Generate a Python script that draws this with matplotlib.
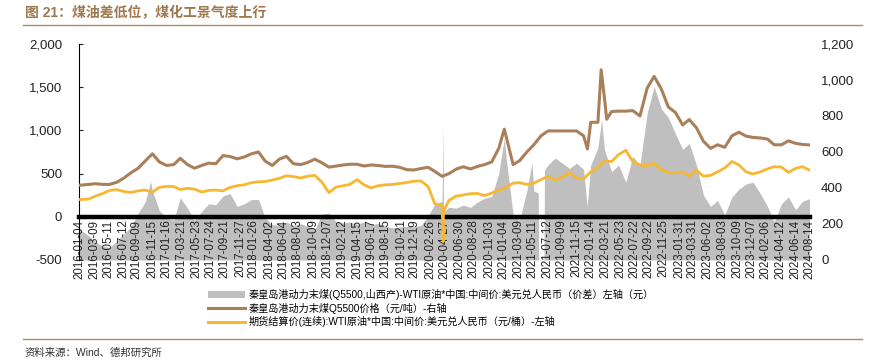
import numpy as np
import pandas as pd
import matplotlib
matplotlib.use("Agg")
import matplotlib.pyplot as plt
from matplotlib.ticker import FuncFormatter, FixedLocator, FixedFormatter
from matplotlib.patches import Patch
from matplotlib.lines import Line2D
import matplotlib.dates as mdates

plt.rcParams['font.family'] = ['Liberation Sans', 'Noto Sans CJK SC', 'DejaVu Sans']

# monthly samples (mid-month), first/last are the series ends
month_dates = list(pd.date_range("2016-01-01", "2024-07-01", freq="MS") + pd.Timedelta(days=14))
month_dates[0] = pd.Timestamp("2016-01-04")
month_dates.append(pd.Timestamp("2024-08-14"))

# 秦皇岛港动力末煤Q5500价格 (right axis)
coal = [415, 420, 424, 420, 420, 432, 455, 485, 510, 550, 590, 545,
        525, 530, 565, 530, 510, 525, 538, 535, 580, 575, 562, 572,
        590, 600, 550, 525, 560, 576, 535, 530, 542, 560, 540, 516,
        522, 528, 532, 532, 522, 528, 525, 520, 521, 515, 502, 500,
        508, 515, 492, 465, 480, 505, 518, 506, 520, 530, 545, 620,
        690, 530, 552, 600, 640, 690, 717, 717, 717, 717, 717, 690,
        765, 765, 900, 825, 827, 827, 830, 800, 955, 1020, 950, 850,
        819, 750, 780, 735, 660, 620, 640, 626, 690, 710, 688, 681,
        678, 672, 640, 640, 662, 648, 642, 639]
coal_extra_dates = ["2021-01-08", "2022-01-01", "2022-03-01", "2022-03-25"]
coal_extra = [727, 617, 1057, 782]

# WTI原油*美元兑人民币 (left axis)
wti = [200, 205, 240, 270, 305, 315, 293, 282, 300, 310, 285, 340,
       352, 350, 315, 330, 320, 287, 305, 310, 300, 340, 360, 370,
       395, 405, 408, 425, 445, 475, 465, 450, 470, 480, 400, 280,
       345, 360, 375, 430, 370, 335, 360, 370, 375, 385, 397, 412,
       415, 350, 150, 130, 190, 240, 252, 268, 270, 245, 275, 310,
       340, 390, 395, 375, 390, 430, 470, 420, 460, 512, 450, 440,
       520, 570, 650, 640, 720, 770, 640, 600, 590, 620, 545, 510,
       510, 520, 470, 540, 470, 480, 520, 565, 640, 600, 520, 495,
       520, 555, 580, 575, 515, 560, 580, 540]
wti_extra_dates = ["2020-04-20", "2020-04-21"]
wti_extra = [-285, 60]

# 价差 (left axis)
spread = [-140, -220, -290, -340, -355, -280, -195, -120, 45, 170, 300, 70,
          -10, -40, 220, 100, -40, 60, 150, 140, 240, 270, 120, 150,
          200, 200, -10, -90, -100, -60, -100, -80, -110, -150, 30, 43,
          -60, -70, -60, -85, -60, -92, -75, -110, -128, -115, -110, -115,
          -100, 10, 150, 180, 110, 100, 135, 110, 170, 215, 235, 500,
          700, 20, -35, 300, 300, -500, 600, 680, 620, 560, 620, 550,
          600, 800, 780, 520, 600, 400, 700, 600, 1200, 1506, 1250, 1150,
          960, 780, 850, 600, 250, 120, 190, 20, 230, 320, 380, 400,
          270, 120, -60, 150, 230, 80, 180, 210]
spread_extra_dates = ["2016-11-07", "2020-04-20", "2020-04-21", "2021-01-08",
                      "2021-05-07", "2021-06-03", "2021-06-05", "2021-06-28",
                      "2021-06-30", "2021-12-31", "2022-03-03"]
spread_extra = [408, 1044, 60, 910, 620, 274, -500, -500, 543, 120, 1121]

tick_labels = ["2016-01-04", "2016-03-09", "2016-05-11", "2016-07-12", "2016-09-09",
               "2016-11-15", "2017-01-16", "2017-03-21", "2017-05-23", "2017-07-24",
               "2017-09-21", "2017-11-27", "2018-01-26", "2018-04-02", "2018-06-04",
               "2018-08-03", "2018-10-09", "2018-12-07", "2019-02-12", "2019-04-15",
               "2019-06-17", "2019-08-15", "2019-10-21", "2019-12-19", "2020-02-26",
               "2020-04-27", "2020-06-30", "2020-08-28", "2020-11-03", "2021-01-04",
               "2021-03-09", "2021-05-11", "2021-07-12", "2021-09-09", "2021-11-15",
               "2022-01-14", "2022-03-21", "2022-05-23", "2022-07-22", "2022-09-22",
               "2022-11-25", "2023-01-31", "2023-03-31", "2023-06-02", "2023-08-03",
               "2023-10-09", "2023-12-07", "2024-02-06", "2024-04-12", "2024-06-14",
               "2024-08-14"]

labels = ["秦皇岛港动力末煤(Q5500,山西产)-WTI原油*中国:中间价:美元兑人民币（价差）左轴（元）",
          "秦皇岛港动力末煤Q5500价格（元/吨）-右轴",
          "期货结算价(连续):WTI原油*中国:中间价:美元兑人民币（元/桶）-左轴"]


def build(vals, extra_dates, extra_vals):
    s = pd.Series(vals, index=pd.DatetimeIndex(month_dates))
    e = pd.Series(extra_vals, index=pd.to_datetime(extra_dates))
    return pd.concat([s, e]).sort_index()


s_coal = build(coal, coal_extra_dates, coal_extra)
s_wti = build(wti, wti_extra_dates, wti_extra)
s_spread = build(spread, spread_extra_dates, spread_extra)

GRAY = "#bfbfbf"
BROWN = "#a9805a"
YELLOW = "#f7b733"
TITLE_C = "#a0784e"
BASE = -500

W, H = 885, 362
fig = plt.figure(figsize=(W / 100, H / 100), dpi=100)
ax = fig.add_axes([79 / W, 1 - 260 / H, (810 - 79) / W, (260 - 44) / H])
ax2 = ax.twinx()
ax2.patch.set_visible(False)

# area is filled up from the bottom of the left axis
ax.fill_between(s_spread.index, s_spread.values, BASE, color=GRAY, lw=0, zorder=1)
ax.plot(s_wti.index, s_wti.values, color=YELLOW, lw=2.0, zorder=3)
ax2.plot(s_coal.index, s_coal.values, color=BROWN, lw=2.2)

ax.set_xlim(pd.Timestamp("2016-01-04"), pd.Timestamp("2024-08-16"))
ax.set_ylim(BASE, 2000)
ax2.set_ylim(0, 1200)
ax.set_yticks(np.arange(-500, 2001, 500))
ax2.set_yticks(np.arange(0, 1201, 200))
fmt = FuncFormatter(lambda v, _: f"{v:,.0f}")
ax.yaxis.set_major_formatter(fmt)
ax2.yaxis.set_major_formatter(fmt)

tick_pos = mdates.date2num(pd.to_datetime(tick_labels).to_pydatetime())
ax.xaxis.set_major_locator(FixedLocator(tick_pos))
ax.xaxis.set_major_formatter(FixedFormatter(tick_labels))
ax.tick_params(axis="x", length=0, pad=2, labelrotation=90, labelsize=8.3,
               labelcolor="#222222")
ax.tick_params(axis="y", direction="in", length=3, pad=12, labelsize=9.5, colors="#222222")
ax2.tick_params(axis="y", length=0, pad=8, labelsize=9.5, colors="#222222")

for sp in ["top", "right"]:
    ax.spines[sp].set_visible(False)
for sp in ["top", "right", "left", "bottom"]:
    ax2.spines[sp].set_visible(False)
ax.spines["bottom"].set_position(("data", 0))
ax.spines["bottom"].set_linewidth(3.2)
ax.spines["bottom"].set_color("black")
ax.spines["bottom"].set_zorder(2)
ax.spines["left"].set_linewidth(0.8)
ax.patch.set_visible(False)

handles = [Patch(facecolor=GRAY, edgecolor="none"),
           Line2D([], [], color=BROWN, lw=2.2),
           Line2D([], [], color=YELLOW, lw=2.2)]
fig.legend(handles, labels, loc="upper left", bbox_to_anchor=(208 / W, 1 - 289 / H),
           frameon=False, fontsize=7.3, handlelength=3.6, handleheight=0.6,
           handletextpad=0.4, labelspacing=0.25, borderpad=0, borderaxespad=0)

fig.text(25 / W, 1 - 13 / H, "图 21：煤油差低位，煤化工景气度上行", fontsize=10,
         fontweight="bold", color=TITLE_C, va="center", ha="left")
fig.add_artist(Line2D([23 / W, 862 / W], [1 - 25 / H, 1 - 25 / H], color="#b08a64", lw=1.0))
fig.add_artist(Line2D([23 / W, 862 / W], [1 - 339 / H, 1 - 339 / H], color="#b08a64", lw=1.0))
fig.text(25 / W, 1 - 353 / H, "资料来源：Wind、德邦研究所", fontsize=7.5,
         color="#333333", va="center", ha="left")

fig.savefig("out.png", dpi=100)

# sanity check: area under the zero line should be gray where the spread is positive
fig.canvas.draw()
buf = np.asarray(fig.canvas.buffer_rgba())
col = buf[224:258, 650, :3]
if not (col == 191).all(axis=1).any():
    raise SystemExit("no gray below zero: " + str(col[::6].tolist()))
